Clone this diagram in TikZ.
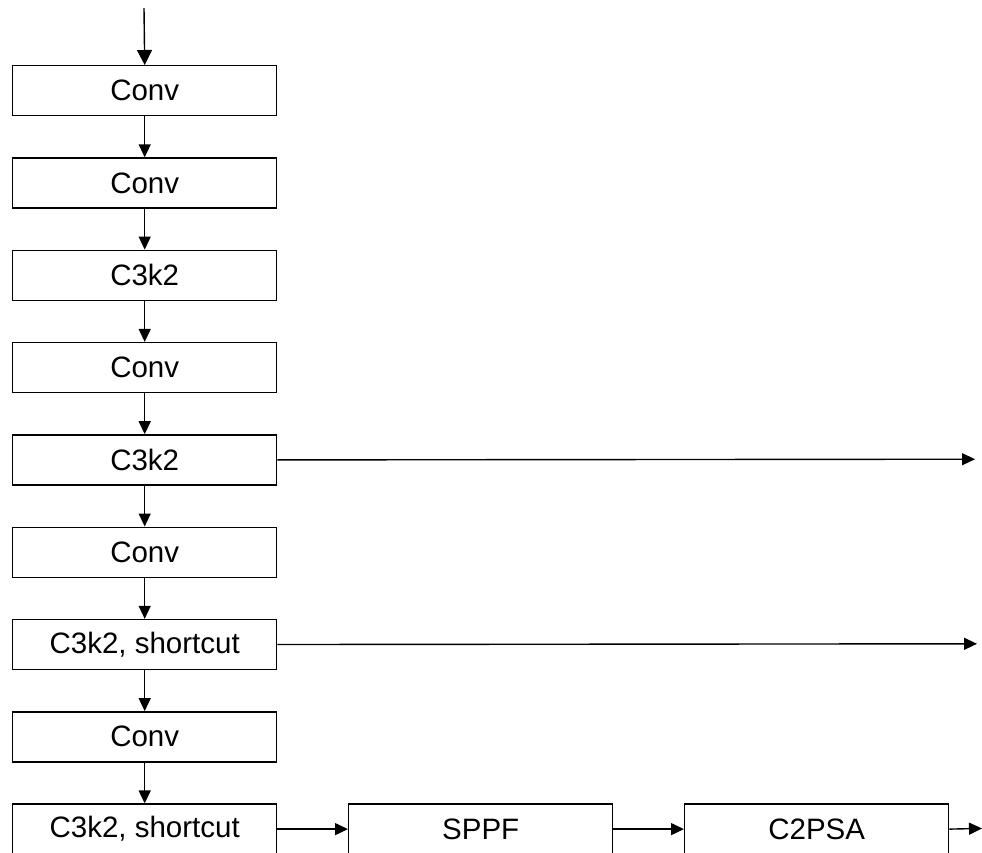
\documentclass[tikz,border=0pt]{standalone}
\usepackage{fontspec}
\setmainfont{Liberation Sans}
\usetikzlibrary{arrows.meta}
\begin{document}
\begin{tikzpicture}[x=1pt,y=-1pt,
  block/.style={draw,line width=1.4pt,minimum width=264pt,minimum height=50pt,
    inner sep=0pt,font=\fontsize{29.5}{31}\selectfont,anchor=north west},
  link/.style={line width=1.4pt,-{Triangle[length=13pt,width=12pt]}},
  feed/.style={line width=1.4pt,-{Triangle[length=15pt,width=15pt]}}]
\clip (0,0) rectangle (982,852);
\useasboundingbox (0,0) rectangle (982,852);

% backbone column
\node[block] (b1) at (12,65)    {Conv};
\node[block] (b2) at (12,157.3) {Conv};
\node[block] (b3) at (12,249.6) {C3k2};
\node[block] (b4) at (12,341.9) {Conv};
\node[block] (b5) at (12,434.2) {C3k2};
\node[block] (b6) at (12,526.5) {Conv};
\node[block] (b7) at (12,618.8) {C3k2, shortcut};
\node[block] (b8) at (12,711.1) {Conv};
\node[block] (b9) at (12,803.4) {C3k2, shortcut};

% bottom row
\node[block] (sppf) at (348,803.4) {SPPF};
\node[block] (psa)  at (684,803.4) {C2PSA};

% input and outputs
\coordinate (in) at (144,8);
\coordinate (o1) at (975,459.2);
\coordinate (o2) at (977,643.8);
\coordinate (o3) at (982,828.4);

\draw[feed] (in) -- (b1.north);
\foreach \a/\b in {b1/b2,b2/b3,b3/b4,b4/b5,b5/b6,b6/b7,b7/b8,b8/b9}
  \draw[link] (\a.south) -- (\b.north);

\draw[link] (b5.east) -- (o1);
\draw[link] (b7.east) -- (o2);
\draw[link] (b9.east) -- (sppf.west);
\draw[link] (sppf.east) -- (psa.west);
\draw[link] (psa.east) -- (o3);
\end{tikzpicture}
\end{document}
